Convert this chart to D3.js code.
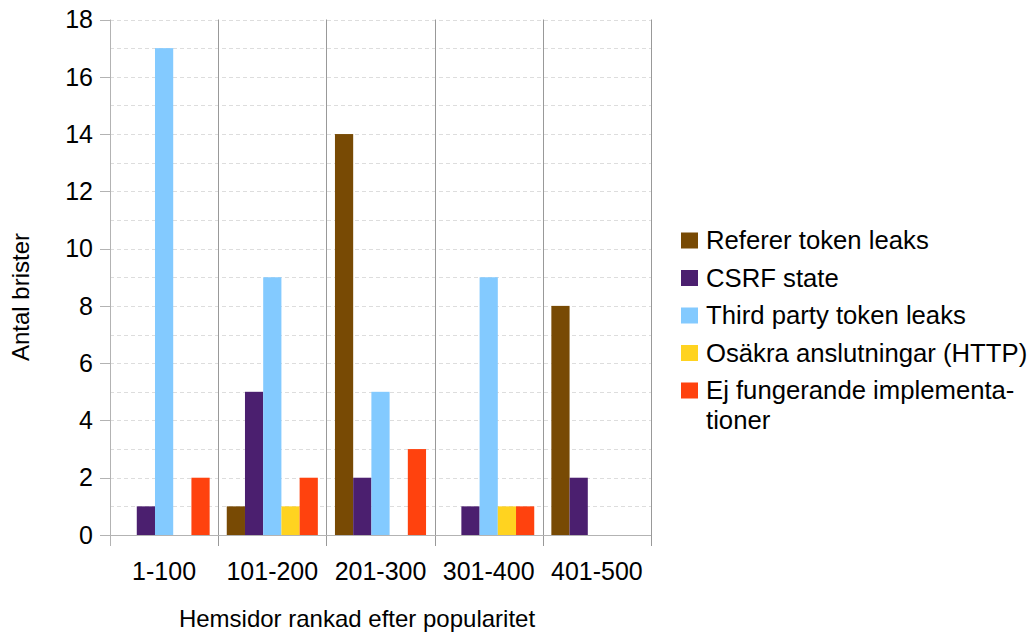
<!DOCTYPE html>
<html>
<head>
<meta charset="utf-8">
<script src="https://cdn.jsdelivr.net/npm/d3@7"></script>
<style>
  body { margin: 0; background: #fff; }
  svg { display: block; font-family: "Liberation Sans", Arial, sans-serif; }
</style>
</head>
<body>
<svg id="chart" width="1034" height="635"></svg>
<script>
// Rankings of websites by popularity
const categories = ["1-100", "101-200", "201-300", "301-400", "401-500"];
const seriesNames = [
  "Referer token leaks",
  "CSRF state",
  "Third party token leaks",
  "Osäkra anslutningar (HTTP)",
  "Ej fungerande implementationer"
];
const legendLines = [
  ["Referer token leaks"],
  ["CSRF state"],
  ["Third party token leaks"],
  ["Osäkra anslutningar (HTTP)"],
  ["Ej fungerande implementa-", "tioner"]
];
const refererLeaks    = [0, 1, 14, 0, 8];
const csrfState       = [1, 5, 2, 1, 2];
const thirdPartyLeaks = [17, 9, 5, 9, 0];
const insecureHttp    = [0, 1, 0, 1, 0];
const brokenImpl      = [2, 2, 3, 1, 0];
const seriesColors = ["#784a04", "#4b1f6f", "#83caff", "#ffd320", "#ff420e"];
const yTicks = [0, 2, 4, 6, 8, 10, 12, 14, 16, 18];

const seriesValues = [refererLeaks, csrfState, thirdPartyLeaks, insecureHttp, brokenImpl];

const svg = d3.select("#chart");
const plot = { left: 110, right: 651, top: 19.5, bottom: 535 };

const x0 = d3.scaleBand().domain(categories).range([plot.left, plot.right]).paddingInner(0).paddingOuter(0);
const x1 = d3.scaleBand().domain(d3.range(seriesNames.length))
  .range([0, x0.bandwidth()]).paddingInner(0).paddingOuter(0.47);
const y = d3.scaleLinear().domain([0, 18]).range([plot.bottom, plot.top]);

// Horizontal dashed gridlines at every unit
svg.append("g").selectAll("line")
  .data(d3.range(1, 19))
  .join("line")
  .attr("x1", plot.left).attr("x2", plot.right)
  .attr("y1", d => Math.round(y(d)) + 0.5).attr("y2", d => Math.round(y(d)) + 0.5)
  .attr("stroke", "#dddddd").attr("stroke-width", 1)
  .attr("stroke-dasharray", "4,3");

// Vertical separators between categories
const bounds = categories.map(c => x0(c)).concat([plot.right]);
svg.append("g").selectAll("line")
  .data(bounds.slice(1))
  .join("line")
  .attr("x1", d => Math.round(d) + 0.5).attr("x2", d => Math.round(d) + 0.5)
  .attr("y1", plot.top).attr("y2", 546)
  .attr("stroke", "#999999").attr("stroke-width", 1);

// Bars
const barGroups = svg.append("g").selectAll("g")
  .data(categories)
  .join("g")
  .attr("transform", c => `translate(${x0(c)},0)`);
barGroups.selectAll("rect")
  .data((c, i) => seriesValues.map((vals, s) => ({ s, v: vals[i] })))
  .join("rect")
  .filter(d => d.v > 0)
  .attr("x", d => x1(d.s))
  .attr("width", x1.bandwidth())
  .attr("y", d => y(d.v))
  .attr("height", d => y(0) - y(d.v))
  .attr("fill", d => seriesColors[d.s]);

// Axis lines
svg.append("line")
  .attr("x1", plot.left + 0.5).attr("x2", plot.left + 0.5)
  .attr("y1", plot.top).attr("y2", 546)
  .attr("stroke", "#b3b3b3");
svg.append("line")
  .attr("x1", 100).attr("x2", plot.right)
  .attr("y1", Math.round(y(0)) + 0.5).attr("y2", Math.round(y(0)) + 0.5)
  .attr("stroke", "#b3b3b3");

// Y ticks and labels
const yt = svg.append("g");
yt.selectAll("line").data(yTicks).join("line")
  .attr("x1", 100).attr("x2", plot.left)
  .attr("y1", d => Math.round(y(d)) + 0.5).attr("y2", d => Math.round(y(d)) + 0.5)
  .attr("stroke", "#b3b3b3");
yt.selectAll("text").data(yTicks).join("text")
  .attr("x", 93).attr("y", d => y(d))
  .attr("dy", "0.35em")
  .attr("text-anchor", "end")
  .attr("font-size", 25)
  .attr("fill", "#000")
  .text(d => d);

// Category labels
svg.append("g").selectAll("text").data(categories).join("text")
  .attr("x", c => x0(c) + x0.bandwidth() / 2)
  .attr("y", 571).attr("dy", "0.35em")
  .attr("text-anchor", "middle")
  .attr("font-size", 25)
  .text(c => c);

// Axis titles
svg.append("text")
  .attr("x", 357).attr("y", 619).attr("dy", "0.35em")
  .attr("text-anchor", "middle").attr("font-size", 24)
  .text("Hemsidor rankad efter popularitet");
svg.append("text")
  .attr("transform", "translate(21,297) rotate(-90)")
  .attr("dy", "0.35em")
  .attr("text-anchor", "middle").attr("font-size", 24)
  .text("Antal brister");

// Legend
const legend = svg.append("g");
const rowY = [240.5, 278, 315.5, 353, 390.5];
seriesNames.forEach((name, i) => {
  legend.append("rect")
    .attr("x", 681).attr("y", rowY[i] - 8).attr("width", 17).attr("height", 16)
    .attr("fill", seriesColors[i]);
  const t = legend.append("text")
    .attr("x", 706).attr("y", rowY[i])
    .attr("font-size", 25.7);
  legendLines[i].forEach((line, j) => {
    t.append("tspan").attr("x", 706).attr("dy", j === 0 ? "0.35em" : "1.16em").text(line);
  });
});
</script>
</body>
</html>
